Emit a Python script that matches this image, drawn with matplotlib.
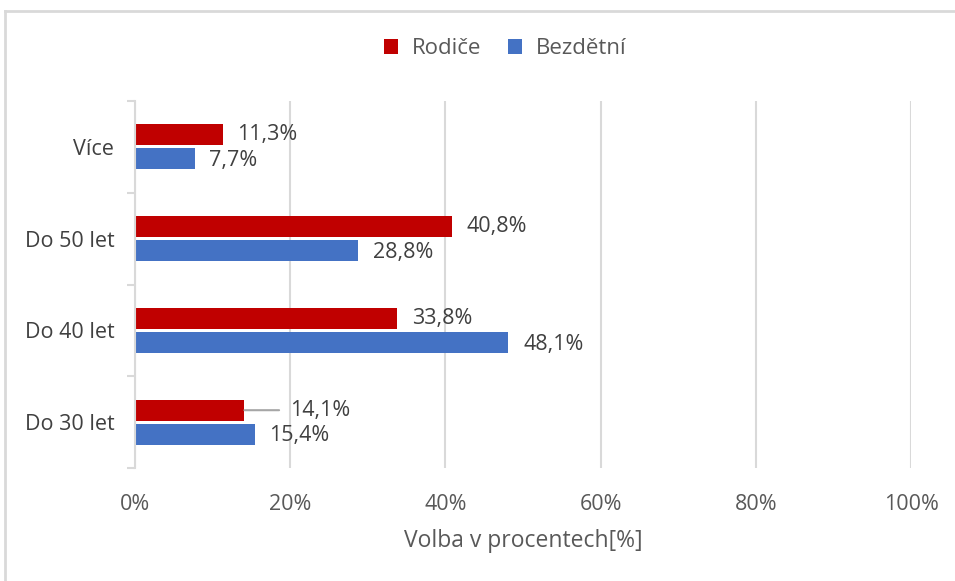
import matplotlib.pyplot as plt
from matplotlib.lines import Line2D
import numpy as np

# data (bottom to top)
categories = ['Do 30 let', 'Do 40 let', 'Do 50 let', 'Více']
rodice = [14.1, 33.8, 40.8, 11.3]
bezdetni = [15.4, 48.1, 28.8, 7.7]
x_ticks = [0, 20, 40, 60, 80, 100]

red = '#C00000'
blue = '#4472C4'
txt = '#404040'
grid = '#D9D9D9'
fs = 15.5

plt.rcParams['font.family'] = ['Open Sans', 'DejaVu Sans']

fig = plt.figure(figsize=(9.55, 5.81), dpi=100)
ax = fig.add_axes([135/955, 1 - 468/581, 776/955, 367/581])

y = np.arange(len(categories))
h = 0.23
off = 0.13
ax.barh(y + off, rodice, height=h, color=red, zorder=3, label='Rodiče')
ax.barh(y - off, bezdetni, height=h, color=blue, zorder=3, label='Bezdětní')

# value labels
for yi, v in zip(y, rodice):
    lab = f'{v:.1f}%'.replace('.', ',')
    if yi == 0:
        # label pulled out with a horizontal leader line
        ax.annotate(lab, xy=(v, yi + off), xytext=(v + 5.9, yi + off),
                    va='center', ha='left', fontsize=fs, color=txt,
                    arrowprops=dict(arrowstyle='-', color='#A6A6A6', lw=1.5,
                                    shrinkA=6, shrinkB=0))
        continue
    ax.text(v + 1.9, yi + off, lab, va='center', ha='left', fontsize=fs, color=txt)
for yi, v in zip(y, bezdetni):
    lab = f'{v:.1f}%'.replace('.', ',')
    ax.text(v + 1.9, yi - off - 0.02, lab, va='center', ha='left', fontsize=fs, color=txt)

ax.set_xlim(0, 100)
ax.set_ylim(-0.5, len(categories) - 0.5)
ax.set_xticks(x_ticks)
ax.set_xticklabels([f'{t}%' for t in x_ticks])
ax.set_yticks(y)
ax.set_yticklabels(categories)
ax.set_yticks(np.arange(-0.5, len(categories), 1), minor=True)
ax.tick_params(axis='y', which='major', length=0, pad=15, labelsize=fs, labelcolor=txt)
ax.tick_params(axis='y', which='minor', length=6, width=1.5, color=grid)
ax.tick_params(axis='x', length=0, pad=19, labelsize=fs, labelcolor='#595959')

ax.xaxis.grid(True, color=grid, lw=1.5, zorder=0)
for s in ['top', 'right', 'bottom']:
    ax.spines[s].set_visible(False)
ax.spines['left'].set_color(grid)
ax.spines['left'].set_linewidth(1.5)
ax.spines['left'].set_zorder(4)

ax.set_xlabel('Volba v procentech[%]', fontsize=16.5, color='#595959', labelpad=10)

fig.legend(loc='center', bbox_to_anchor=(505/955, 1 - 49/581), ncol=2, frameon=False,
           fontsize=16, labelcolor='#595959', handlelength=0.65, handleheight=0.65,
           columnspacing=1.2, handletextpad=0.6)

# outer chart frame
fx = 5/955
fy = 1 - 11/581
fig.add_artist(Line2D([fx, fx], [0, fy], color=grid, lw=2, transform=fig.transFigure))
fig.add_artist(Line2D([fx, 1], [fy, fy], color=grid, lw=2, transform=fig.transFigure))

fig.savefig('out.png', dpi=100, facecolor='white')
